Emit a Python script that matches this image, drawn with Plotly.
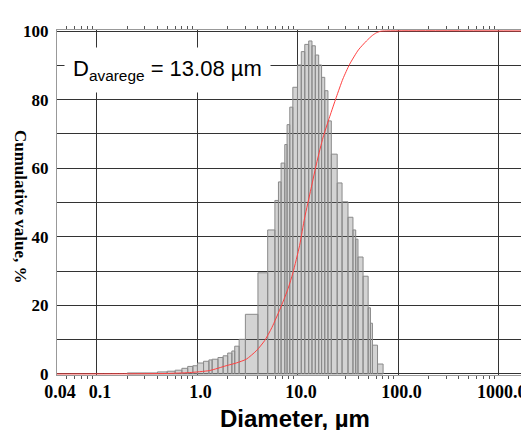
import math
import plotly.graph_objects as go

# ---- data ----
bin_edges = [0.2, 0.3, 0.4, 0.5, 0.6, 0.7, 0.8, 0.9, 1.0, 1.15, 1.3, 1.4, 1.6, 1.8,
             2.0, 2.2, 2.35, 2.6, 3.0, 4.0, 5.0, 5.9, 6.4, 6.8, 7.4, 7.8, 8.3, 8.9,
             9.9, 10.8, 11.7, 12.8, 13.8, 14.9, 16.1, 17.2, 18.5, 19.9, 21.5, 24.6,
             27.5, 31.5, 35.3, 37.6, 39.6, 44.5, 50.0, 52.7, 55.2, 62.0, 70.4]
bin_values = [0.3, 0.3, 0.6, 0.8, 1.1, 1.65, 2.2, 2.4, 3.2, 3.7, 4.1, 4.3, 4.8, 5.3,
              6.1, 6.7, 8.1, 10.1, 17.4, 29.5, 42.0, 50.6, 56.0, 61.5, 66.9, 72.7,
              77.8, 83.6, 90.1, 94.0, 96.1, 97.1, 95.7, 93.0, 90.1, 86.5, 82.6, 73.8,
              64.1, 55.7, 50.2, 45.7, 42.0, 39.3, 34.1, 28.5, 19.3, 14.8, 8.4, 2.9]

cum_diameter = [0.04, 0.2, 0.5, 0.83, 1.32, 1.93, 2.43, 3.06, 3.85, 4.66, 5.5, 6.83,
                8.0, 8.92, 10.4, 11.66, 13.5, 15.5, 17.8, 20.7, 24.1, 28.0, 32.7,
                40.0, 48.1, 55.0, 60.5, 66.0, 70.0, 2500.0]
cum_value = [0, 0.05, 0.15, 0.4, 1.0, 2.4, 3.2, 4.3, 6.75, 9.7, 13.5, 19.8,
             25.0, 29.5, 37.5, 45.5, 54.0, 62.0, 69.0, 75.0, 80.7, 86.0, 90.3,
             94.5, 97.1, 98.7, 99.5, 99.9, 100.0, 100.0]

x_tickvals = [0.04, 0.1, 1, 10, 100, 1000]
x_ticktext = ["0.04", "0.1", "1.0", "10.0", "100.0", "1000.0"]
y_tickvals = [0, 20, 40, 60, 80, 100]
y_ticktext = ["0", "20", "40", "60", "80", "100"]
y_minor_vals = [10, 30, 50, 70, 90]
x_minor = [m * 10 ** e for e in range(-2, 4) for m in range(2, 10)]
x_minor = [v for v in x_minor if 0.04 < v < 2100]

# ---- build bar polygons (one trace, gap-separated) ----
bx, by = [], []
for i, v in enumerate(bin_values):
    l, r = bin_edges[i], bin_edges[i + 1]
    bx += [l, l, r, r, l, None]
    by += [0, v, v, 0, 0, None]

fig = go.Figure()
fig.add_trace(go.Scatter(
    x=bx, y=by, mode="lines", fill="toself",
    fillcolor="rgba(110,110,110,0.30)",
    line=dict(color="#8a8a8a", width=1),
    hoverinfo="skip", showlegend=False))

fig.add_trace(go.Scatter(
    x=cum_diameter, y=cum_value, mode="lines",
    line=dict(color="#ff4040", width=1, shape="spline", smoothing=0.6),
    hoverinfo="skip", showlegend=False))

x_tick_font = dict(family="Liberation Serif", size=18, color="black", weight="bold")
y_tick_font = dict(family="Liberation Serif", size=17, color="black", weight="bold")

fig.update_xaxes(
    type="log", range=[math.log10(0.04), 3.30], automargin=False,
    tickmode="array", tickvals=x_tickvals, ticktext=x_ticktext,
    tickfont=x_tick_font, ticks="", ticklabelshift=3,
    showgrid=True, gridcolor="#333333", gridwidth=1,
    showline=True, linecolor="#999999", linewidth=1, mirror="ticks",
    zeroline=False,
    minor=dict(tickmode="array", tickvals=x_minor, ticks="outside", ticklen=3,
               tickcolor="#555555", showgrid=False),
)
fig.update_yaxes(
    range=[-0.3, 100.3], automargin=False,
    tickmode="array", tickvals=y_tickvals, ticktext=y_ticktext,
    tickfont=y_tick_font, ticks="", ticklabelstandoff=4,
    showgrid=True, gridcolor="#333333", gridwidth=1,
    showline=True, linecolor="#999999", linewidth=1,
    zeroline=False,
    minor=dict(tickmode="array", tickvals=y_minor_vals, ticks="",
               showgrid=True, gridcolor="#333333", gridwidth=1),
)

fig.add_annotation(
    text="D<sub>avarege</sub> = 13.08 µm",
    xref="paper", yref="paper", x=0.235, y=0.884,
    xanchor="center", yanchor="middle", showarrow=False,
    font=dict(family="Liberation Sans", size=22, color="black"),
    bgcolor="white", borderpad=8)

fig.add_annotation(
    text="Diameter, µm",
    xref="paper", yref="paper", x=0.504, y=-0.125,
    xanchor="center", yanchor="middle", showarrow=False,
    font=dict(family="Liberation Sans", size=24, color="black", weight="bold"))

fig.add_annotation(
    text="Cumulative value, %",
    xref="paper", yref="paper", x=0, y=0.49, xshift=-37,
    xanchor="center", yanchor="middle", showarrow=False, textangle=90,
    font=dict(family="Liberation Serif", size=17, color="black", weight="bold"))

# the page body adds an 8px offset, so the figure is 8px smaller than the window
fig.update_layout(
    width=521, height=422,
    margin=dict(l=49, r=0, t=22, b=55, autoexpand=False),
    paper_bgcolor="white", plot_bgcolor="white",
    showlegend=False,
)

fig.write_html("out.html")
